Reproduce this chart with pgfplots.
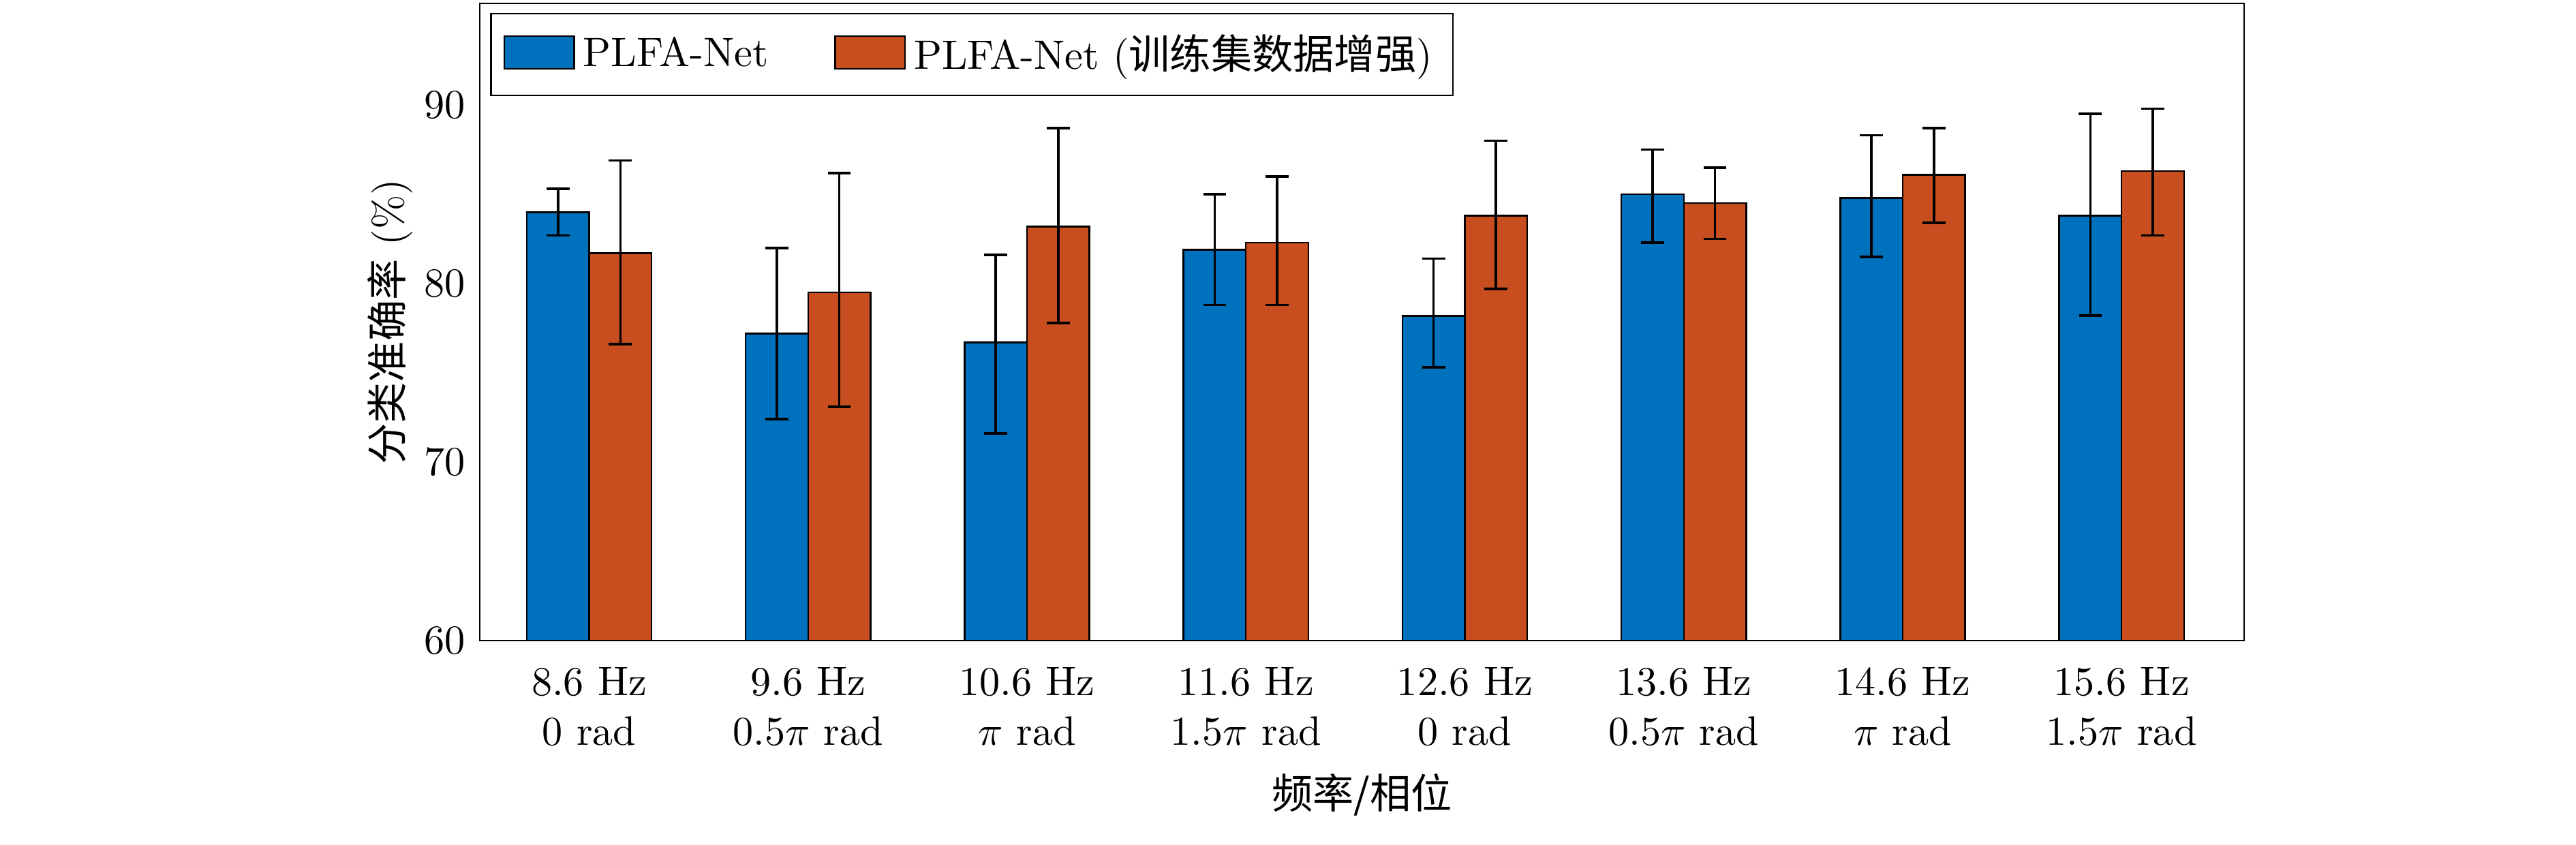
\documentclass[border=0pt]{standalone}
\usepackage{pgfplots}
\pgfplotsset{compat=1.18}
\usepackage{fontspec}
\newfontfamily\cjk{Noto Sans CJK SC}
\definecolor{cb}{RGB}{0,114,189}
\definecolor{co}{RGB}{200,78,32}
\begin{document}
\begin{tikzpicture}[x=1pt,y=1pt]
\useasboundingbox (0,0) rectangle (627.2,205.6);
\begin{axis}[at={(116.8pt,49.6pt)},anchor=south west,
 scale only axis, width=429.6pt, height=155.2pt,
 xmin=-0.5, xmax=7.56, ymin=60, ymax=95.7,
 ytick={60,70,80,90}, xtick={0,...,7}, major tick length=0pt,
 ytick style={draw=none}, xtick style={draw=none},
 xticklabels={{8.6 Hz\\0 rad},{9.6 Hz\\0.5$\pi$ rad},{10.6 Hz\\$\pi$ rad},{11.6 Hz\\1.5$\pi$ rad},{12.6 Hz\\0 rad},{13.6 Hz\\0.5$\pi$ rad},{14.6 Hz\\$\pi$ rad},{15.6 Hz\\1.5$\pi$ rad}},
 xticklabel style={align=center, yshift=-3pt},
 ylabel={{\cjk 分类准确率} (\%)}, xlabel={\cjk 频率/相位},
 ylabel style={yshift=-4pt},
 ybar, bar width=15.2pt,
 legend columns=2, legend style={at={(0.006,0.985)},anchor=north west, draw=black, /tikz/every even column/.append style={column sep=14pt}, inner sep=3pt},
 legend image code/.code={\draw[#1,draw=black] (0pt,-3.5pt) rectangle (17pt,4.5pt);},
 error bars/error bar style={black,line width=0.6pt},
 error bars/error mark options={rotate=90,mark size=2.8pt,black,line width=0.6pt},
]
\addplot[fill=cb,draw=black,bar shift=-7.6pt] coordinates {
(0,84.0) (1,77.2) (2,76.7) (3,81.9) (4,78.2) (5,85.0) (6,84.8) (7,83.8)};
\addplot[fill=co,draw=black,bar shift=7.6pt] coordinates {
(0,81.7) (1,79.5) (2,83.2) (3,82.3) (4,83.8) (5,84.5) (6,86.1) (7,86.3)};
\legend{PLFA-Net, PLFA-Net ({\cjk 训练集数据增强})}
\addplot[draw=none,forget plot,bar shift=-7.6pt,fill=none,error bars/.cd,y dir=both,y explicit] coordinates {
(0,84.0) += (0,1.3) -= (0,1.3)
(1,77.2) += (0,4.8) -= (0,4.8)
(2,76.7) += (0,4.9) -= (0,5.1)
(3,81.9) += (0,3.1) -= (0,3.1)
(4,78.2) += (0,3.2) -= (0,2.9)
(5,85.0) += (0,2.5) -= (0,2.7)
(6,84.8) += (0,3.5) -= (0,3.3)
(7,83.8) += (0,5.7) -= (0,5.6)};
\addplot[draw=none,forget plot,bar shift=7.6pt,fill=none,error bars/.cd,y dir=both,y explicit] coordinates {
(0,81.7) += (0,5.2) -= (0,5.1)
(1,79.5) += (0,6.7) -= (0,6.4)
(2,83.2) += (0,5.5) -= (0,5.4)
(3,82.3) += (0,3.7) -= (0,3.5)
(4,83.8) += (0,4.2) -= (0,4.1)
(5,84.5) += (0,2.0) -= (0,2.0)
(6,86.1) += (0,2.6) -= (0,2.7)
(7,86.3) += (0,3.5) -= (0,3.6)};
\end{axis}
\end{tikzpicture}
\end{document}
